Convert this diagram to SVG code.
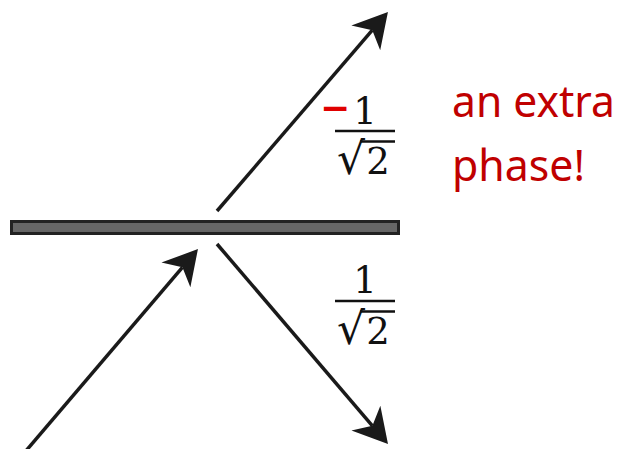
<svg xmlns="http://www.w3.org/2000/svg" width="623" height="449" viewBox="0 0 623 449">
<style>
.ray{stroke:#1a1a1a;stroke-width:3.5;fill:none;marker-end:url(#head)}
.num{font-family:"DejaVu Serif","Liberation Serif",serif;font-size:37px;fill:#111}
.rad{font-family:"DejaVu Serif","Liberation Serif",serif;font-size:44px;fill:#111}
.minus{font-family:"DejaVu Sans",sans-serif;font-size:36px;font-weight:bold;fill:#e00000}
.bar{stroke:#111;stroke-width:2.5}
.note{font-family:"Noto Sans","Open Sans",sans-serif;font-size:44px;fill:#c00000}
</style>
<defs>
<marker id="head" markerUnits="userSpaceOnUse" markerWidth="40" markerHeight="40" refX="10" refY="20" orient="auto" overflow="visible">
<path d="M34,20 L0,1 L10,20 L0,39 Z" fill="#1a1a1a"/>
</marker>
</defs>
<g id="plate">
<rect x="11.5" y="221.5" width="387" height="12" fill="#666" stroke="#222" stroke-width="3"/>
</g>
<g id="connectors">
<line class="ray" x1="25" y1="452" x2="182.4" y2="267.3"/>
<line class="ray" x1="217" y1="211" x2="372.3" y2="30.2"/>
<line class="ray" x1="217" y1="244" x2="372.4" y2="425.8"/>
</g>
<g id="reflected-amplitude">
<text x="335" y="120" class="minus" text-anchor="middle">−</text>
<text x="365" y="124" class="num" text-anchor="middle">1</text>
<line class="bar" x1="335" y1="131" x2="395" y2="131"/>
<text x="337" y="174" class="rad">√</text>
<text x="378" y="174" class="num" text-anchor="middle">2</text>
<line class="bar" x1="360" y1="141.5" x2="395" y2="141.5"/>
</g>
<g id="transmitted-amplitude">
<text x="365" y="293" class="num" text-anchor="middle">1</text>
<line class="bar" x1="335" y1="301" x2="395" y2="301"/>
<text x="337" y="344" class="rad">√</text>
<text x="378" y="344" class="num" text-anchor="middle">2</text>
<line class="bar" x1="360" y1="311.5" x2="395" y2="311.5"/>
</g>
<g id="note">
<text x="452" y="117" class="note" textLength="163" lengthAdjust="spacingAndGlyphs">an extra</text>
<text x="452" y="181" class="note" textLength="133" lengthAdjust="spacingAndGlyphs">phase!</text>
</g>
</svg>
